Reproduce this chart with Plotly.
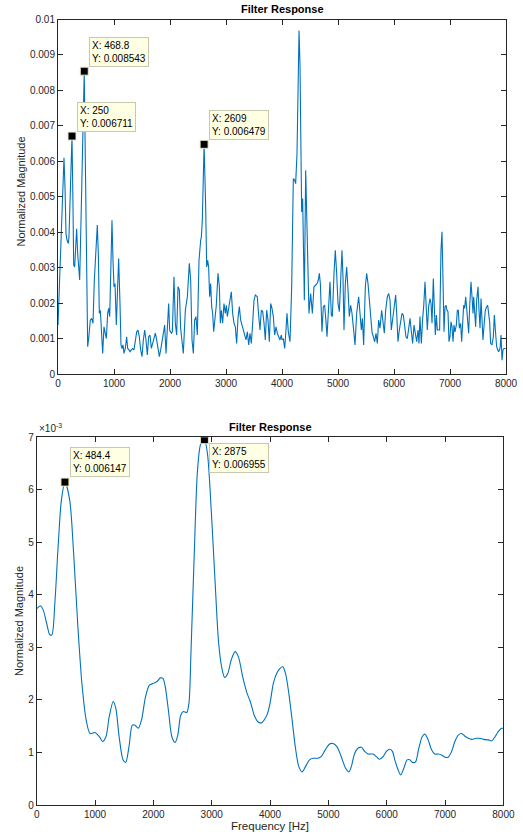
import plotly.graph_objects as go

MAG_SCALE = 1e-3  # values below are read in units of 1e-3

# ---------------- Top chart: raw filter response ----------------
freq_top = [0,24,48,71,95,107,125,143,161,185,196,220,250,268,280,298,315,333,351,369,387,411,440,468.8,488,506,530,554,577,601,625,649,673,702,720,738,756,774,798,821,839,863,887,905,923,946,964,982,1000,1018,1042,1065,1083,1107,1125,1143,1161,1179,1202,1226,1244,1268,1286,1310,1333,1357,1381,1405,1429,1452,1476,1500,1524,1548,1571,1595,1619,1643,1667,1690,1714,1738,1762,1786,1810,1833,1857,1881,1905,1929,1952,1976,
            1994,2024,2042,2071,2095,2119,2143,2167,2190,2214,2238,2274,2310,2345,2369,2393,2417,2440,2464,2488,2518,2548,2560,2577,2609,2637,2655,2673,2690,2708,2726,2744,2762,2780,2798,2827,2857,2881,2899,2917,2940,2964,2988,3006,3024,3048,3071,3095,3119,3143,3167,3190,3214,3238,3262,3286,3310,3333,3357,3381,3405,3429,3452,3476,3500,3524,3559,3583,3607,3631,3655,3679,3702,3726,3750,3774,3798,3821,3845,3869,3893,3917,3940,3964,3988,
            4000,4024,4048,4071,4089,4113,4143,4173,4202,4226,4244,4268,4304,4321,4339,4351,4369,4399,4423,4440,4458,4482,4512,4542,4571,4601,4625,4649,4667,4685,4714,4738,4762,4786,4804,4833,4857,4881,4899,4929,4952,4976,5000,5024,5048,5071,5089,5107,5131,5155,5179,5202,5226,5250,5274,5304,5333,5369,5393,5417,5435,5458,5488,5512,5536,5560,5583,5607,5631,5655,5679,5702,5726,5750,5780,5804,5827,5851,5881,5905,5929,5952,5976,
            6012,6030,6048,6071,6095,6119,6143,6167,6190,6214,6238,6262,6286,6310,6333,6357,6381,6405,6429,6446,6464,6488,6512,6530,6554,6577,6595,6619,6643,6661,6679,6702,6720,6738,6756,6774,6798,6815,6839,6857,6875,6893,6911,6929,6946,6964,6982,7000,7018,7036,7054,7071,7089,7113,7131,7149,7167,7190,7208,7226,7244,7262,7280,7298,7315,7333,7351,7375,7393,7411,7423,7440,7458,7476,7500,7518,7536,7554,7571,7589,7613,7631,7655,7673,7690,7708,7726,7750,7774,7792,7810,7833,7851,7869,7893,7911,7929,7946,7964,7994]

mag_top_milli = [1.38,2.46,3.96,5.0,5.84,6.10,5.28,3.96,3.78,3.68,3.87,5.28,6.711,4.71,3.07,3.02,3.78,4.10,3.40,2.84,2.65,4.34,6.22,8.543,6.03,2.93,0.77,1.10,1.52,1.57,1.43,2.65,3.40,4.20,3.40,1.71,1.80,1.33,0.58,1.33,1.19,1.00,1.71,1.85,1.62,2.93,4.34,3.21,2.46,2.55,1.38,2.46,3.26,1.99,0.82,0.72,0.82,0.58,0.72,1.05,0.72,0.68,0.63,0.68,0.72,0.68,0.96,1.19,1.24,1.05,0.68,0.49,0.96,1.24,0.96,0.54,1.05,1.10,0.72,0.86,0.96,1.15,0.96,0.72,0.49,0.68,0.96,1.15,1.38,0.58,1.33,1.99,
                 1.24,1.15,1.19,2.74,1.43,1.10,2.46,2.37,1.29,1.00,0.58,1.80,2.18,3.12,2.65,0.96,0.58,1.52,1.62,1.10,3.21,3.78,3.87,4.34,6.479,4.71,3.02,3.21,3.02,2.18,2.55,1.90,1.71,1.19,1.47,1.94,2.84,2.46,1.43,1.80,1.43,1.99,1.71,1.94,1.62,1.90,2.18,2.32,1.71,1.43,1.33,0.86,1.57,1.90,1.52,1.38,1.24,1.10,0.96,1.19,0.82,1.15,0.86,1.43,2.08,2.23,2.18,1.66,1.24,1.80,1.76,1.43,0.96,1.80,1.52,0.91,1.99,1.85,1.62,1.10,1.33,1.15,1.05,0.96,1.10,
                 0.96,1.00,0.72,1.24,1.71,1.19,0.91,2.46,5.51,5.47,5.37,6.22,9.69,8.75,6.22,4.57,4.95,2.08,5.75,4.34,2.84,1.71,2.27,1.71,2.46,2.51,2.55,2.65,2.84,2.55,1.19,1.90,1.94,1.47,1.05,1.90,2.60,1.66,1.62,2.84,3.49,2.84,1.99,1.76,2.46,3.49,2.74,1.24,2.55,3.02,2.37,1.62,1.94,1.71,1.33,0.82,1.71,2.18,1.71,1.24,1.57,0.82,2.46,2.84,2.55,2.08,1.71,1.19,1.05,0.91,1.15,0.86,1.52,1.29,1.80,1.52,1.15,1.80,2.18,2.27,2.08,1.24,1.52,
                 1.90,2.23,1.71,0.91,1.24,1.43,1.71,1.66,1.29,1.05,1.00,1.33,1.57,1.19,0.86,1.38,1.10,0.91,1.24,0.86,1.62,0.86,1.57,1.90,2.60,1.90,1.24,1.90,2.13,1.99,1.43,2.69,1.90,1.10,1.66,1.24,1.24,1.24,3.49,4.01,2.65,1.19,1.90,1.94,1.80,1.76,0.91,1.05,1.47,1.33,0.91,1.38,1.19,1.38,1.80,1.80,1.29,1.43,0.91,1.62,1.94,1.85,2.18,1.85,1.52,1.15,1.90,2.60,2.18,1.71,2.18,1.80,1.33,2.08,2.46,1.80,1.29,2.13,1.71,0.96,1.47,1.80,1.90,1.94,1.71,1.47,0.86,0.82,1.05,1.66,1.24,0.77,0.68,0.63,0.72,1.10,0.39,0.68,0.72,0.72]

tips_top_x = [250, 468.8, 2609]
tips_top_y = [0.006711, 0.008543, 0.006479]
tips_top_label = ["X: 250<br>Y: 0.006711", "X: 468.8<br>Y: 0.008543", "X: 2609<br>Y: 0.006479"]

# ---------------- Bottom chart: smoothed filter response ----------------
freq_bot = [0,68,113,170,226,260,311,367,424,484.4,565,633,706,780,848,915,1000,1074,1130,1187,1243,1311,1356,1413,1480,1526,1582,1639,1684,1740,1797,1865,1932,2006,2062,2119,2164,2204,2260,2317,2373,2418,2469,2514,2571,2610,2644,2701,2757,2814,2875,2927,2995,3062,3119,3175,3221,3277,3334,3401,3458,3531,3605,3661,3729,3786,3850,3900,3950,4000,4057,4115,4172,4218,4264,4321,4378,4436,4493,4550,4607,4676,4734,4820,4877,4946,5020,5077,5146,5221,5295,5352,5393,5450,5507,5565,5622,5679,5765,5822,5880,5937,5994,6052,6098,6138,6195,6241,6293,6350,6396,6441,6493,6550,6608,6653,6711,6768,6825,6883,6940,6998,7055,7112,7169,7227,7284,7341,7399,7456,7542,7599,7656,7742,7800,7857,7914,7971,8000]
mag_bot_milli = [3.74,3.79,3.71,3.46,3.24,3.24,3.84,4.92,5.81,6.147,5.81,4.79,3.39,2.25,1.62,1.36,1.38,1.30,1.21,1.30,1.68,1.97,1.84,1.30,0.86,0.81,1.11,1.52,1.52,1.46,1.62,2.06,2.28,2.32,2.35,2.42,2.41,2.25,1.78,1.30,1.19,1.33,1.71,1.78,1.76,1.94,2.89,4.79,6.38,6.88,6.955,6.69,5.55,4.16,3.08,2.60,2.43,2.51,2.76,2.92,2.82,2.44,2.13,1.97,1.71,1.59,1.56,1.62,1.72,1.94,2.32,2.51,2.60,2.63,2.51,2.13,1.62,1.08,0.73,0.63,0.73,0.86,0.89,0.89,0.92,1.05,1.16,1.17,1.11,0.92,0.70,0.63,0.73,0.98,1.08,1.10,1.02,0.97,0.97,0.92,0.87,0.92,1.02,1.06,1.02,0.86,0.67,0.57,0.70,0.86,0.86,0.81,0.82,1.08,1.30,1.35,1.24,1.05,0.97,0.97,0.95,0.91,0.91,1.02,1.21,1.33,1.36,1.31,1.27,1.25,1.27,1.27,1.25,1.24,1.22,1.30,1.40,1.46,1.46]

tips_bot_x = [484.4, 2875]
tips_bot_y = [0.006147, 0.006955]
tips_bot_label = ["X: 484.4<br>Y: 0.006147", "X: 2875<br>Y: 0.006955"]

x_ticks = [0, 1000, 2000, 3000, 4000, 5000, 6000, 7000, 8000]
x_tick_text = ["0", "1000", "2000", "3000", "4000", "5000", "6000", "7000", "8000"]
y_top_ticks = [0, 0.001, 0.002, 0.003, 0.004, 0.005, 0.006, 0.007, 0.008, 0.009, 0.01]
y_top_text = ["0", "0.001", "0.002", "0.003", "0.004", "0.005", "0.006", "0.007", "0.008", "0.009", "0.01"]
y_bot_ticks = [0, 0.001, 0.002, 0.003, 0.004, 0.005, 0.006, 0.007]
y_bot_text = ["0", "1", "2", "3", "4", "5", "6", "7"]

LINE = "#0072BD"
AX = "#262626"
FONT = "Liberation Sans, Arial, Helvetica, sans-serif"
W, H = 523, 834

fig = go.Figure()
fig.add_trace(go.Scatter(x=freq_top, y=[v * MAG_SCALE for v in mag_top_milli], mode="lines",
                         line=dict(color=LINE, width=1.1), xaxis="x", yaxis="y", showlegend=False))
fig.add_trace(go.Scatter(x=freq_bot, y=[v * MAG_SCALE for v in mag_bot_milli], mode="lines",
                         line=dict(color=LINE, width=1.1, shape="spline", smoothing=0.8),
                         xaxis="x2", yaxis="y2", showlegend=False))
marker_style = dict(symbol="square", size=8, color="black", line=dict(color="#e8e6c8", width=1))
fig.add_trace(go.Scatter(x=tips_top_x, y=tips_top_y, mode="markers", marker=marker_style,
                         xaxis="x", yaxis="y", showlegend=False))
fig.add_trace(go.Scatter(x=tips_bot_x, y=tips_bot_y, mode="markers", marker=marker_style,
                         xaxis="x2", yaxis="y2", showlegend=False))

def axis_common():
    return dict(showgrid=False, zeroline=False, showline=True, linecolor=AX, linewidth=1,
                mirror="ticks", ticks="inside", ticklen=5, tickwidth=1, tickcolor=AX,
                tickfont=dict(family=FONT, size=10, color=AX), automargin=False)

# pixel boxes of plot areas
top_box = dict(l=58, r=506, t=19.5, b=374)
bot_box = dict(l=36.7, r=503.4, t=437.3, b=805)

def xdom(b):
    return [b["l"] / W, b["r"] / W]

def ydom(b):
    return [(H - b["b"]) / H, (H - b["t"]) / H]

fig.update_layout(
    width=W, height=H, margin=dict(l=0, r=0, t=0, b=0),
    paper_bgcolor="white", plot_bgcolor="white", showlegend=False,
    font=dict(family=FONT, color=AX),
    xaxis=dict(domain=xdom(top_box), range=[0, 8000], tickvals=x_ticks, ticktext=x_tick_text,
               anchor="y", **axis_common()),
    yaxis=dict(domain=ydom(top_box), range=[0, 0.01], tickvals=y_top_ticks, ticktext=y_top_text,
               anchor="x", **axis_common()),
    xaxis2=dict(domain=xdom(bot_box), range=[0, 8000], tickvals=x_ticks, ticktext=x_tick_text,
                anchor="y2", **axis_common()),
    yaxis2=dict(domain=ydom(bot_box), range=[0, 0.007], tickvals=y_bot_ticks, ticktext=y_bot_text,
                anchor="x2", **axis_common()),
)

annotations = []
# Titles and y-axis labels
for box, ylab_x, ylab_y in ((top_box, 20, 191.5), (bot_box, 18.5, 621.5)):
    annotations.append(dict(text="<b>Filter Response</b>", xref="paper", yref="paper",
                            x=((box["l"] + box["r"]) / 2) / W, y=(H - box["t"] + 2) / H,
                            xanchor="center", yanchor="bottom", showarrow=False,
                            font=dict(family=FONT, size=11, color="black")))
    annotations.append(dict(text="Normalized Magnitude", xref="paper", yref="paper",
                            x=ylab_x / W, y=(H - ylab_y) / H,
                            xanchor="center", yanchor="middle", textangle=-90, showarrow=False,
                            font=dict(family=FONT, size=11, color=AX)))
annotations.append(dict(text="Frequency [Hz]", xref="paper", yref="paper",
                        x=((bot_box["l"] + bot_box["r"]) / 2) / W, y=(H - 826) / H,
                        xanchor="center", yanchor="middle", showarrow=False,
                        font=dict(family=FONT, size=11.5, color=AX)))
annotations.append(dict(text="\u00d710<sup>-3</sup>", xref="paper", yref="paper",
                        x=bot_box["l"] / W, y=(H - bot_box["t"] + 1) / H,
                        xanchor="left", yanchor="bottom", showarrow=False,
                        font=dict(family=FONT, size=10, color=AX)))

tip_box = dict(showarrow=False, align="left", bgcolor="#ffffe4", bordercolor="#c9c7b0",
               borderwidth=1, borderpad=2, font=dict(family=FONT, size=10, color="black"))
for x, y, t in zip(tips_top_x, tips_top_y, tips_top_label):
    annotations.append(dict(x=x, y=y, xref="x", yref="y", text=t, xanchor="left", yanchor="bottom",
                            xshift=5, yshift=4, **tip_box))
annotations.append(dict(x=tips_bot_x[0], y=tips_bot_y[0], xref="x2", yref="y2", text=tips_bot_label[0],
                        xanchor="left", yanchor="bottom", xshift=5, yshift=5, **tip_box))
annotations.append(dict(x=tips_bot_x[1], y=tips_bot_y[1], xref="x2", yref="y2", text=tips_bot_label[1],
                        xanchor="left", yanchor="top", xshift=5, yshift=-3, **tip_box))
fig.update_layout(annotations=annotations)

fig.write_html("out.html")
